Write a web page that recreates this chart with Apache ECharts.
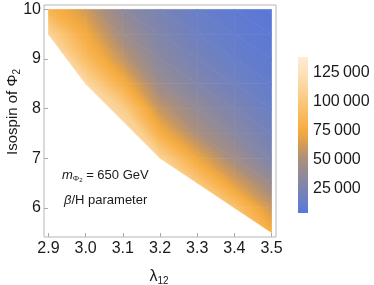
<!DOCTYPE html>
<html><head><meta charset="utf-8">
<script src="https://cdn.jsdelivr.net/npm/echarts@6/dist/echarts.min.js"></script>
<style>html,body{margin:0;padding:0;background:#fff}#c{width:374px;height:285px}</style>
</head><body><div id="c"></div>
<script>
// ---- data ----
const lambdaVals = [2.9, 3.0, 3.1, 3.2, 3.3, 3.4, 3.5];
const isospinVals = [5.5, 6, 6.5, 7, 7.5, 8, 8.5, 9, 9.5, 10];
// rows follow isospinVals, columns follow lambdaVals (null = no value)
const row55 = [null, null, null, null, null, null, 78000];
const row60 = [null, null, null, null, null, 95000, 60000];
const row65 = [null, null, null, null, 100000, 66000, 41000];
const row70 = [null, null, null, 110000, 72000, 45000, 26000];
const row75 = [null, null, null, 78000, 50000, 33000, 20000];
const row80 = [null, null, 105000, 58000, 38000, 25000, 15000];
const row85 = [null, 115000, 78000, 42000, 28000, 19000, 11000];
const row90 = [null, 90000, 58000, 33000, 22000, 14000, 8500];
const row95 = [110000, 75000, 45000, 27000, 17000, 11000, 6500];
const row100 = [82000, 62000, 36000, 23000, 14000, 9000, 5000];
const values = [row55, row60, row65, row70, row75, row80, row85, row90, row95, row100];

const xTicks = [2.9, 3.0, 3.1, 3.2, 3.3, 3.4, 3.5];
const yTicks = [6, 7, 8, 9, 10];
const barTicks = [25000, 50000, 75000, 100000, 125000];
const valueMin = 4500, valueMax = 138000;
const colorStops = [
  [4500, '#5877d8'], [15000, '#6a7fc6'], [25000, '#7c84b0'], [37000, '#918a98'],
  [50000, '#aa8f7c'], [62000, '#cf9a5a'], [72000, '#f0a840'], [80000, '#f8b04a'],
  [95000, '#f9c270'], [110000, '#fbd398'], [125000, '#fde2bb'], [138000, '#feecd6']
];

// ---- colour map ----
function hexRgb(h) { return [1, 3, 5].map(i => parseInt(h.substr(i, 2), 16)); }
const stopRgb = colorStops.map(s => [s[0], hexRgb(s[1])]);
function colorAt(v) {
  if (v <= stopRgb[0][0]) return colorStops[0][1];
  for (let k = 1; k < stopRgb.length; k++) {
    if (v <= stopRgb[k][0]) {
      const a = stopRgb[k - 1], b = stopRgb[k];
      const t = (v - a[0]) / (b[0] - a[0]);
      const c = a[1].map((x, i) => Math.round(x + (b[1][i] - x) * t));
      return 'rgb(' + c.join(',') + ')';
    }
  }
  return colorStops[colorStops.length - 1][1];
}

// ---- triangulation of the data points ----
const cols = lambdaVals.map((lx, i) => {
  const pts = [];
  isospinVals.forEach((iy, j) => { if (values[j][i] != null) pts.push([lx, iy, values[j][i]]); });
  return pts;
});
const triangles = [];
function addTri(a, b, c) { triangles.push([a[0], a[1], a[2], b[0], b[1], b[2], c[0], c[1], c[2]]); }
for (let i = 0; i < cols.length - 1; i++) {
  const L = cols[i], R = cols[i + 1];
  let a = 0, b = 0;
  while (a < L.length - 1 || b < R.length - 1) {
    if (a === L.length - 1 || (b < R.length - 1 && R[b + 1][1] < L[a + 1][1])) {
      addTri(L[a], R[b], R[b + 1]); b++;
    } else {
      addTri(L[a], R[b], L[a + 1]); a++;
    }
  }
}
// convex hull pockets along the lower boundary
const bottoms = cols.map(c => c[0]);
const hull = [];
function cross(o, a, b) { return (a[0] - o[0]) * (b[1] - o[1]) - (a[1] - o[1]) * (b[0] - o[0]); }
bottoms.forEach((p, idx) => {
  while (hull.length >= 2 && cross(bottoms[hull[hull.length - 2]], bottoms[hull[hull.length - 1]], p) < -1e-9) hull.pop();
  hull.push(idx);
});
for (let k = 0; k < hull.length - 1; k++) {
  const a = hull[k], b = hull[k + 1];
  for (let m = a + 1; m < b; m++) addTri(bottoms[a], bottoms[m], bottoms[m + 1]);
}

function renderTri(params, api) {
  const p = [0, 1, 2].map(k => api.coord([api.value(3 * k), api.value(3 * k + 1)]));
  const v = [0, 1, 2].map(k => api.value(3 * k + 2));
  const e1x = p[1][0] - p[0][0], e1y = p[1][1] - p[0][1];
  const e2x = p[2][0] - p[0][0], e2y = p[2][1] - p[0][1];
  const det = e1x * e2y - e1y * e2x;
  if (Math.abs(det) < 1e-6) return;
  const d1 = v[1] - v[0], d2 = v[2] - v[0];
  const gx = (d1 * e2y - d2 * e1y) / det, gy = (d2 * e1x - d1 * e2x) / det;
  const g2 = gx * gx + gy * gy;
  const vmin = Math.min.apply(null, v), vmax = Math.max.apply(null, v);
  let fill;
  if (vmax - vmin < 1 || g2 < 1e-12) {
    fill = colorAt(v[0]);
  } else {
    const s = (vmin - v[0]) / g2, t = (vmax - v[0]) / g2;
    const stops = [];
    const K = 16;
    for (let k = 0; k <= K; k++) stops.push({ offset: k / K, color: colorAt(vmin + (vmax - vmin) * k / K) });
    fill = new echarts.graphic.LinearGradient(p[0][0] + gx * s, p[0][1] + gy * s, p[0][0] + gx * t, p[0][1] + gy * t, stops, true);
  }
  return { type: 'polygon', shape: { points: p }, style: { fill: fill, stroke: fill, lineWidth: 0.7 } };
}

function renderBar(params, api) {
  const p0 = api.coord([0, valueMin]), p1 = api.coord([1, valueMax]);
  const stops = colorStops.map(s => ({ offset: (s[0] - valueMin) / (valueMax - valueMin), color: s[1] }));
  return {
    type: 'rect',
    shape: { x: p0[0], y: p1[1], width: p1[0] - p0[0], height: p0[1] - p1[1] },
    style: { fill: new echarts.graphic.LinearGradient(0, 1, 0, 0, stops) }
  };
}

const FONT = "'Liberation Sans', Arial, sans-serif";
const TXT = '#1a1a1a';
function fmtThousands(v) {
  const s = String(Math.round(v));
  return s.length > 3 ? s.slice(0, s.length - 3) + '\u2009' + s.slice(-3) : s;
}

const chart = echarts.init(document.getElementById('c'), null, { renderer: 'canvas' });
chart.setOption({
  animation: false,
  backgroundColor: '#ffffff',
  grid: [
    { left: 44, top: 5, width: 232, height: 232, show: true, borderColor: '#b5b5b5', borderWidth: 1, backgroundColor: 'transparent' },
    { left: 298, top: 57, width: 10, height: 156, show: false }
  ],
  xAxis: [
    {
      type: 'value', gridIndex: 0, min: 2.888, max: 3.512,
      axisLine: { show: false },
      splitLine: { show: false },
      axisTick: { show: true, inside: true, length: 4, customValues: xTicks, lineStyle: { color: '#aaa' } },
      axisLabel: { customValues: xTicks, formatter: v => v.toFixed(1), fontSize: 16, fontFamily: FONT, color: TXT, margin: 4 }
    },
    { type: 'value', gridIndex: 1, min: 0, max: 1, show: false }
  ],
  yAxis: [
    {
      type: 'value', gridIndex: 0, min: 5.41, max: 10.09,
      axisLine: { show: false },
      splitLine: { show: false },
      axisTick: { show: true, inside: true, length: 4, customValues: yTicks, lineStyle: { color: '#aaa' } },
      axisLabel: { customValues: yTicks, formatter: v => String(v), fontSize: 16, fontFamily: FONT, color: TXT, margin: 3 }
    },
    {
      type: 'value', gridIndex: 1, min: valueMin, max: valueMax, position: 'right',
      axisLine: { show: false }, axisTick: { show: false }, splitLine: { show: false },
      axisLabel: { customValues: barTicks, formatter: fmtThousands, fontSize: 16, fontFamily: FONT, color: TXT, margin: 5 }
    }
  ],
  series: [
    {
      type: 'custom', xAxisIndex: 0, yAxisIndex: 0, clip: true,
      renderItem: renderTri,
      encode: { x: [0, 3, 6], y: [1, 4, 7] },
      data: triangles,
      silent: true
    },
    {
      type: 'custom', xAxisIndex: 1, yAxisIndex: 1,
      renderItem: renderBar,
      encode: { x: [0, 2], y: [1, 3] },
      data: [[0, valueMin, 1, valueMax]],
      silent: true
    }
  ],
  graphic: [
    {
      type: 'text', x: 13, y: 112, rotation: Math.PI / 2,
      style: {
        text: '{a|Isospin of Φ}{s|2}', align: 'center', verticalAlign: 'middle', fill: TXT,
        rich: {
          a: { fontSize: 15, fontFamily: FONT, lineHeight: 18, fill: TXT },
          s: { fontSize: 10, fontFamily: FONT, lineHeight: 14, verticalAlign: 'bottom', fill: TXT }
        }
      }
    },
    {
      type: 'text', x: 159, y: 277,
      style: {
        text: '{a|λ}{s|12}', align: 'center', verticalAlign: 'middle', fill: TXT,
        rich: {
          a: { fontSize: 16, fontFamily: FONT, lineHeight: 18, fill: TXT },
          s: { fontSize: 10, fontFamily: FONT, lineHeight: 12, verticalAlign: 'bottom', fill: TXT }
        }
      }
    },
    {
      type: 'text', x: 62, y: 175,
      style: {
        text: '{m|m}{s|Φ}{ss|2}{t| = 650 GeV}', align: 'left', verticalAlign: 'middle', fill: TXT,
        rich: {
          m: { fontSize: 13, fontStyle: 'italic', fontFamily: FONT, lineHeight: 16, fill: TXT },
          s: { fontSize: 8, fontFamily: FONT, lineHeight: 10, verticalAlign: 'bottom', fill: TXT },
          ss: { fontSize: 6, fontFamily: FONT, lineHeight: 8, verticalAlign: 'bottom', fill: TXT },
          t: { fontSize: 13, fontFamily: FONT, lineHeight: 16, fill: TXT }
        }
      }
    },
    {
      type: 'text', x: 64, y: 200,
      style: {
        text: '{b|β}{t|/H parameter}', align: 'left', verticalAlign: 'middle', fill: TXT,
        rich: {
          b: { fontSize: 13, fontStyle: 'italic', fontFamily: FONT, lineHeight: 16, fill: TXT },
          t: { fontSize: 13, fontFamily: FONT, lineHeight: 16, fill: TXT }
        }
      }
    }
  ]
});
</script>
</body></html>
